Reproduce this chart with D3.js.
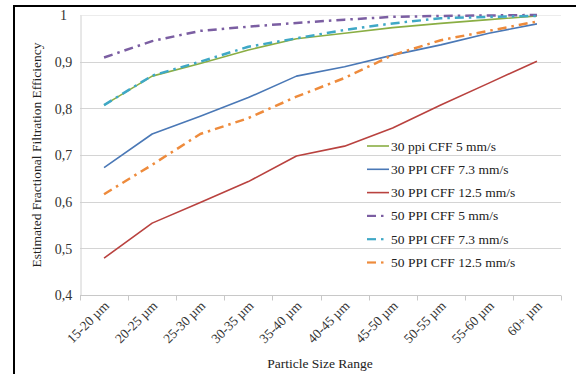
<!DOCTYPE html>
<html>
<head>
<meta charset="utf-8">
<script src="https://cdn.jsdelivr.net/npm/d3@7"></script>
<style>
  html, body { margin: 0; padding: 0; background: #fff; }
  svg { display: block; }
</style>
</head>
<body>
<svg id="chart" width="576" height="374"></svg>
<script>
// Particle size classes on the x axis
const categories = ["15-20 µm", "20-25 µm", "25-30 µm", "30-35 µm", "35-40 µm",
                    "40-45 µm", "45-50 µm", "50-55 µm", "55-60 µm", "60+ µm"];

// Estimated fractional filtration efficiency per filter / velocity
const ppi30v5   = [0.807, 0.869, 0.896, 0.925, 0.949, 0.961, 0.973, 0.982, 0.990, 0.998];
const ppi30v73  = [0.673, 0.745, 0.783, 0.823, 0.869, 0.889, 0.914, 0.936, 0.961, 0.981];
const ppi30v125 = [0.479, 0.554, 0.598, 0.643, 0.698, 0.719, 0.758, 0.807, 0.854, 0.901];
const ppi50v5   = [0.909, 0.944, 0.966, 0.975, 0.983, 0.990, 0.996, 0.998, 0.999, 1.000];
const ppi50v73  = [0.807, 0.870, 0.900, 0.932, 0.950, 0.968, 0.982, 0.993, 0.996, 0.998];
const ppi50v125 = [0.616, 0.679, 0.745, 0.779, 0.825, 0.865, 0.914, 0.946, 0.966, 0.986];

const seriesNames = ["30 ppi CFF 5 mm/s", "30 PPI CFF 7.3 mm/s", "30 PPI CFF 12.5 mm/s",
                     "50 PPI CFF 5 mm/s", "50 PPI CFF 7.3 mm/s", "50 PPI CFF 12.5 mm/s"];
const seriesValues = [ppi30v5, ppi30v73, ppi30v125, ppi50v5, ppi50v73, ppi50v125];
const seriesColors = ["#8aae44", "#4a78b6", "#b9423f", "#7b5ea2", "#3fa8c6", "#ee8b3c"];
const seriesDashed = [false, false, false, true, true, true];

const yTicks = [0.4, 0.5, 0.6, 0.7, 0.8, 0.9, 1.0];
const yTickText = ["0,4", "0,5", "0,6", "0,7", "0,8", "0,9", "1"];

const FONT = "'Liberation Serif'";
const svg = d3.select("#chart");

// outer frame (left and top edges)
svg.append("line").attr("x1", 14).attr("x2", 576).attr("y1", 6).attr("y2", 6)
  .attr("stroke", "#000").attr("stroke-width", 2);
svg.append("line").attr("x1", 14).attr("x2", 14).attr("y1", 5).attr("y2", 374)
  .attr("stroke", "#000").attr("stroke-width", 2);

const plot = { left: 80, right: 561, top: 15, bottom: 295 };

const x = d3.scaleBand().domain(categories).range([plot.left, plot.right]);
const y = d3.scaleLinear().domain([0.4, 1.0]).range([plot.bottom, plot.top]);

// horizontal gridlines
svg.append("g").selectAll("line").data(yTicks.slice(1)).join("line")
  .attr("x1", plot.left).attr("x2", plot.right)
  .attr("y1", d => Math.round(y(d)) + 0.5).attr("y2", d => Math.round(y(d)) + 0.5)
  .attr("stroke", d => d === 1 ? "#ececec" : "#d4d4d4").attr("stroke-width", 1);

// y axis
const yAxis = svg.append("g").attr("transform", `translate(${plot.left + 0.5},0)`)
  .call(d3.axisLeft(y).tickValues(yTicks).tickSize(0).tickFormat((d, i) => yTickText[i]));
yAxis.select(".domain").attr("stroke", "#d0d0d0");
yAxis.selectAll("text")
  .attr("x", -17).attr("dy", "0.34em").attr("text-anchor", "middle")
  .style("font-family", FONT).style("font-size", "14px").attr("fill", "#333");

// x axis with boundary ticks
const xAxis = svg.append("g").attr("transform", `translate(0,${Math.round(y(0.4)) + 0.5})`);
xAxis.append("line").attr("x1", plot.left).attr("x2", plot.right)
  .attr("stroke", "#c8c8c8");
const bounds = categories.map(c => x(c)).concat([plot.right]);
xAxis.selectAll("line.tick").data(bounds).join("line").attr("class", "tick")
  .attr("x1", d => Math.round(d) + 0.5).attr("x2", d => Math.round(d) + 0.5)
  .attr("y1", 0).attr("y2", 5).attr("stroke", "#c8c8c8");
xAxis.selectAll("text").data(categories).join("text")
  .attr("transform", d => `translate(${x(d) + x.bandwidth() / 2 + 6},${11}) rotate(-45)`)
  .attr("text-anchor", "end")
  .style("font-family", FONT).style("font-size", "13.5px").attr("fill", "#333")
  .text(d => d);

// axis titles
svg.append("text")
  .attr("transform", `translate(41,${(plot.top + plot.bottom) / 2}) rotate(-90)`)
  .attr("text-anchor", "middle")
  .style("font-family", FONT).style("font-size", "13.5px").attr("fill", "#222")
  .text("Estimated Fractional Filtration Efficiency");
svg.append("text")
  .attr("x", 320).attr("y", 368)
  .attr("text-anchor", "middle")
  .style("font-family", FONT).style("font-size", "13.5px").attr("fill", "#222")
  .text("Particle Size Range");

// series lines
const line = d3.line()
  .x((d, i) => x(categories[i]) + x.bandwidth() / 2)
  .y(d => y(d));

const dashPattern = "9,5,2.5,5";
svg.append("g").selectAll("path").data(seriesValues).join("path")
  .attr("d", d => line(d))
  .attr("fill", "none")
  .attr("stroke", (d, i) => seriesColors[i])
  .attr("stroke-width", (d, i) => seriesDashed[i] ? 2.5 : 1.6)
  .attr("stroke-dasharray", (d, i) => seriesDashed[i] ? dashPattern : null)
  .attr("stroke-linejoin", "round");

// legend
const legend = svg.append("g");
const rowY = i => 146 + i * 23.3;
seriesNames.forEach((name, i) => {
  const g = legend.append("g").attr("transform", `translate(0,${rowY(i)})`);
  if (seriesDashed[i]) {
    g.append("line").attr("x1", 367).attr("x2", 376).attr("y1", 0).attr("y2", 0)
      .attr("stroke", seriesColors[i]).attr("stroke-width", 2.2);
    g.append("line").attr("x1", 381).attr("x2", 383.5).attr("y1", 0).attr("y2", 0)
      .attr("stroke", seriesColors[i]).attr("stroke-width", 2.2);
  } else {
    g.append("line").attr("x1", 367).attr("x2", 389).attr("y1", 0).attr("y2", 0)
      .attr("stroke", seriesColors[i]).attr("stroke-width", 1.6);
  }
  g.append("text").attr("x", 391).attr("y", 4.5)
    .style("font-family", FONT).style("font-size", "13.5px").attr("fill", "#222").text(name);
});
</script>
</body>
</html>
